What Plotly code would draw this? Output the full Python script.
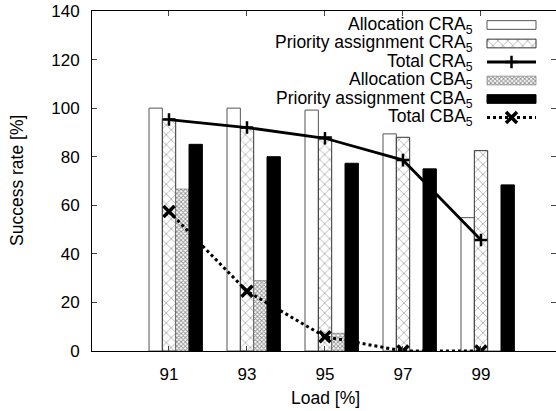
import plotly.graph_objects as go

# ---- data ----
loads = ["91", "93", "95", "97", "99"]
alloc_cra = [100, 100, 99.2, 89.4, 54.9]
prio_cra = [95.5, 92, 88.3, 88, 82.5]
total_cra = [95.3, 92, 87.6, 78.6, 45.7]
alloc_cba = [66.7, 29, 7.3, 0, 0]
prio_cba = [85.1, 80, 77.3, 75, 68.4]
total_cba = [57.4, 24.6, 5.9, 0, 0]

names = ["Allocation CRA<sub>5</sub>", "Priority assignment CRA<sub>5</sub>", "Total CRA<sub>5</sub>",
         "Allocation CBA<sub>5</sub>", "Priority assignment CBA<sub>5</sub>", "Total CBA<sub>5</sub>"]

FONT = "Liberation Sans, Arial, Helvetica, sans-serif"
pos = list(range(len(loads)))
W = 0.171

styles = {
    "white": dict(color="white", line=dict(color="#555555", width=1)),
    "xhatch": dict(color="white", line=dict(color="#333333", width=1),
                   pattern=dict(shape="x", size=7, solidity=0.15, fgcolor="black", bgcolor="white")),
    "dots": dict(color="white", line=dict(color="#666666", width=0.6),
                 pattern=dict(shape="x", size=3, solidity=0.5, fgcolor="#222222", bgcolor="white")),
    "black": dict(color="black", line=dict(color="black", width=1)),
}
PLUS = dict(symbol="cross-thin", size=9, line=dict(color="black", width=2.5))
CROSS = dict(symbol="x-thin", size=11, line=dict(color="black", width=3.5))

fig = go.Figure()

for vals, off, st in [(alloc_cra, -0.256, "white"), (prio_cra, -0.085, "xhatch"),
                      (alloc_cba, 0.086, "dots"), (prio_cba, 0.257, "black")]:
    fig.add_trace(go.Bar(x=pos, y=vals, width=W, offset=off, marker=styles[st],
                         showlegend=False, hoverinfo="skip"))

fig.add_trace(go.Scatter(x=pos, y=total_cra, mode="lines+markers",
                         line=dict(color="black", width=2.8), marker=PLUS, showlegend=False))
fig.add_trace(go.Scatter(x=pos, y=total_cba, mode="lines+markers",
                         line=dict(color="black", width=3, dash="dot"), marker=CROSS, showlegend=False))

# ---- custom legend (text right-aligned, sample on the right), pixel-mapped overlay axes ----
rows = [25, 43.5, 62, 80.5, 99, 117.5]
sx0, sx1 = 487, 536
legend_kinds = ["white", "xhatch", "lineA", "dots", "black", "lineB"]
for yrow, kind in zip(rows, legend_kinds):
    if kind in styles:
        fig.add_trace(go.Bar(y=[yrow], x=[sx1 - sx0], base=[sx0], orientation="h", width=8.7,
                             marker=styles[kind], xaxis="x2", yaxis="y2",
                             showlegend=False, hoverinfo="skip"))
    else:
        solid = kind == "lineA"
        fig.add_trace(go.Scatter(x=[sx0, sx1], y=[yrow, yrow], mode="lines",
                                 line=dict(color="black", width=2.8 if solid else 3,
                                           dash="solid" if solid else "dot"),
                                 xaxis="x2", yaxis="y2", showlegend=False, hoverinfo="skip"))
        fig.add_trace(go.Scatter(x=[(sx0 + sx1) / 2], y=[yrow], mode="markers",
                                 marker=PLUS if solid else CROSS,
                                 xaxis="x2", yaxis="y2", showlegend=False, hoverinfo="skip"))

annotations = []
for yrow, nm in zip(rows, names):
    annotations.append(dict(x=475, y=yrow, xref="x2", yref="y2", text=nm, showarrow=False,
                            xanchor="right", yanchor="middle", font=dict(size=17.5, color="black", family=FONT)))

annotations.append(dict(x=0, y=0.5, xref="paper", yref="paper", xshift=-75, text="Success rate [%]",
                        textangle=-90, showarrow=False, xanchor="center", yanchor="middle",
                        font=dict(size=17.5, color="black", family=FONT)))
annotations.append(dict(x=0.5, y=0, xref="paper", yref="paper", yshift=-47, xshift=1, text="Load [%]",
                        showarrow=False, xanchor="center", yanchor="middle",
                        font=dict(size=17.5, color="black", family=FONT)))

fig.update_layout(
    width=556, height=411, autosize=False,
    margin=dict(l=92, r=0, t=11, b=60),
    paper_bgcolor="white", plot_bgcolor="white",
    barmode="overlay",
    font=dict(family=FONT, size=17, color="black"),
    annotations=annotations,
    xaxis=dict(range=[-0.987, 4.962], tickvals=pos, ticktext=loads, ticks="inside", ticklen=5,
               showline=True, linecolor="black", linewidth=1, mirror="ticks", showgrid=False,
               zeroline=False, ticklabelstandoff=8, tickfont=dict(size=17)),
    yaxis=dict(range=[0, 140], dtick=20, ticks="inside", ticklen=5,
               showline=True, linecolor="black", linewidth=1, mirror="ticks", showgrid=False,
               zeroline=False, ticklabelstandoff=8, tickfont=dict(size=17)),
    xaxis2=dict(range=[92, 556], overlaying="x", visible=False, fixedrange=True),
    yaxis2=dict(range=[351, 11], overlaying="y", visible=False, fixedrange=True),
)

fig.write_html("out.html", default_width="556px", default_height="411px",
               config={"responsive": False, "displayModeBar": False},
               post_script="document.body.style.margin='0';document.body.style.overflow='hidden';")
